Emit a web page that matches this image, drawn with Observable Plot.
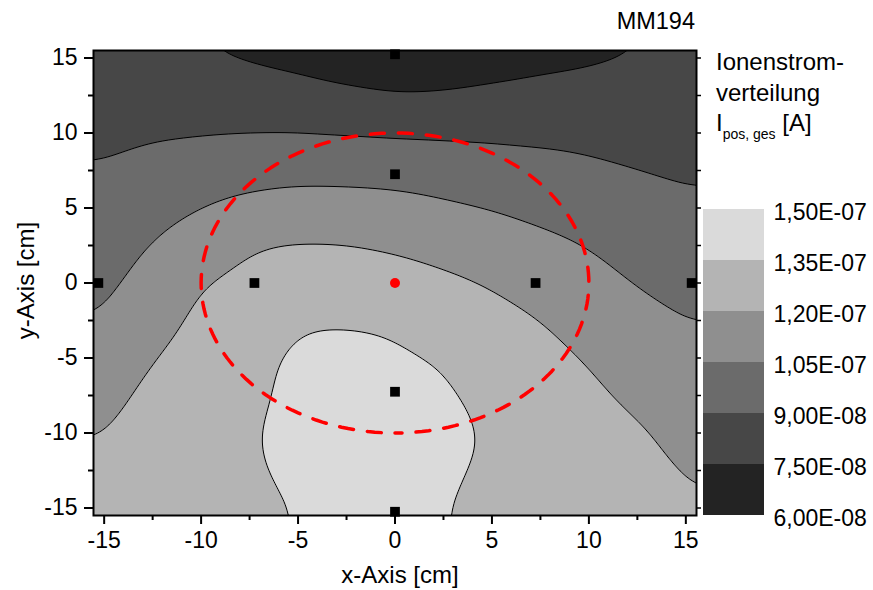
<!DOCTYPE html>
<html>
<head>
<meta charset="utf-8">
<script src="https://cdn.jsdelivr.net/npm/d3@7"></script>
<script src="https://cdn.jsdelivr.net/npm/@observablehq/plot@0.6"></script>
<style>
  body { margin: 0; background: #fff; font-family: "Liberation Sans", Arial, sans-serif; }
  #wrap { position: relative; width: 873px; height: 590px; overflow: hidden; }
  .abs { position: absolute; white-space: nowrap; color: #000; }
  #main, #legend { position: absolute; }
</style>
</head>
<body>
<div id="wrap">
  <div id="main" style="left:0;top:0"></div>
  <div id="legend" style="left:703px;top:199px"></div>
  <div class="abs" style="right:178px;top:10px;font-size:23.5px;line-height:23.5px">MM194</div>
  <div class="abs" style="left:716px;top:47px;font-size:24px;line-height:30.5px">Ionenstrom-<br>verteilung<br>I<span style="font-size:14px;vertical-align:-8px;line-height:0">pos, ges</span> [A]</div>
  <div class="abs" style="left:300px;top:563px;width:200px;text-align:center;font-size:24px;line-height:24px">x-Axis [cm]</div>
  <div class="abs" style="left:0;top:0;width:200px;text-align:center;font-size:24px;line-height:24px;transform-origin:0 0;transform:translate(13.7px,380.5px) rotate(-90deg)">y-Axis [cm]</div>
</div>
<script>
// Ion current distribution, values in units of 1e-8 A
const unit = 1e-8;
const xs = [-15.55, -12.5, -10, -7.5, -5, -2.5, 0, 2.5, 5, 7.5, 10, 12.5, 15.55];
const ys = [15.5, 12.5, 10, 7.5, 5, 2.5, 0, -2.5, -5, -7.5, -10, -12.5, -15.5];
const current = [
  [7.86, 7.80, 7.40, 7.15, 6.90, 6.54, 6.20, 6.29, 6.66, 6.97, 7.20, 7.42, 7.60],
  [8.31, 8.39, 8.29, 8.21, 8.05, 7.78, 7.55, 7.64, 7.84, 7.96, 7.98, 7.99, 7.98],
  [8.69, 8.87, 8.91, 8.97, 9.00, 8.93, 8.84, 8.81, 8.78, 8.72, 8.62, 8.50, 8.39],
  [9.06, 9.42, 9.69, 9.92, 10.07, 10.05, 10.00, 9.81, 9.63, 9.45, 9.25, 9.02, 8.80],
  [9.43, 9.99, 10.50, 10.93, 11.14, 11.11, 10.99, 10.73, 10.47, 10.16, 9.86, 9.49, 9.21],
  [9.75, 10.56, 11.35, 12.00, 12.12, 12.08, 11.86, 11.57, 11.21, 10.82, 10.47, 9.96, 9.62],
  [10.02, 11.04, 12.06, 12.30, 12.74, 12.74, 12.55, 12.26, 11.94, 11.43, 10.96, 10.43, 10.03],
  [10.40, 11.52, 12.31, 12.60, 13.42, 13.52, 13.38, 12.82, 12.38, 12.05, 11.44, 10.87, 10.44],
  [10.90, 12.00, 12.56, 13.10, 13.85, 13.75, 13.72, 13.48, 12.79, 12.42, 11.92, 11.31, 10.81],
  [11.40, 12.38, 12.81, 13.20, 13.85, 13.95, 13.85, 13.70, 13.25, 12.74, 12.27, 11.75, 11.18],
  [11.80, 12.70, 13.00, 13.40, 13.95, 14.10, 13.95, 13.75, 13.45, 12.95, 12.53, 12.17, 11.55],
  [12.30, 12.95, 13.15, 13.30, 13.85, 14.10, 13.95, 13.65, 13.35, 13.00, 12.65, 12.35, 11.91],
  [12.84, 13.15, 13.15, 13.15, 13.50, 14.00, 13.85, 13.52, 13.20, 12.96, 12.60, 12.40, 12.05]
];
const levels = [6, 7.5, 9, 10.5, 12, 13.5, 15];
const shades = ["#232323", "#474747", "#6b6b6b", "#8f8f8f", "#b4b4b4", "#dadada"];

// measurement probe positions (cm)
const probeX = [-15.3, -7.25, 7.25, 15.3, 0, 0, 0, 0];
const probeY = [0, 0, 0, 0, 15.25, 7.25, -7.25, -15.25];
const centerX = [0];
const centerY = [0];
const ringRadius = 10;

const xMajor = [-15, -10, -5, 0, 5, 10, 15];
const xMinor = [-12.5, -7.5, -2.5, 2.5, 7.5, 12.5];
const yMajor = [-15, -10, -5, 0, 5, 10, 15];
const yMinor = [-12.5, -7.5, -2.5, 2.5, 7.5, 12.5];

const grid = [];
current.forEach((row, i) => row.forEach((v, j) => grid.push({x: xs[j], y: ys[i], v})));
const ring = d3.range(-90, 271, 2).map(a => ({
  x: ringRadius * Math.cos(a * Math.PI / 180),
  y: ringRadius * Math.sin(a * Math.PI / 180)
}));
const probes = probeX.map((x, i) => ({x, y: probeY[i]}));
const centers = centerX.map((x, i) => ({x, y: centerY[i]}));

const colorScale = {type: "threshold", domain: levels.slice(1, -1), range: shades};
const font = "'Liberation Sans', Arial, sans-serif";

const chart = Plot.plot({
  width: 873, height: 590,
  marginLeft: 93, marginRight: 177, marginTop: 50, marginBottom: 75,
  style: {fontFamily: font, color: "black", background: "transparent"},
  x: {domain: [-15.55, 15.55], label: null},
  y: {domain: [-15.5, 15.5], label: null},
  color: colorScale,
  marks: [
    Plot.contour(grid, {x: "x", y: "y", fill: "v", thresholds: levels.slice(0, -1),
      interpolate: "barycentric", pixelSize: 1, blur: 18, stroke: "black", strokeWidth: 1}),
    Plot.line(ring, {x: "x", y: "y", stroke: "#ff0000", strokeWidth: 3.5,
      strokeDasharray: "14,14", strokeDashoffset: 7}),
    Plot.dot(probes, {x: "x", y: "y", symbol: "square", r: 5.5, fill: "black", stroke: null}),
    Plot.dot(centers, {x: "x", y: "y", r: 5, fill: "#ff0000", stroke: null}),
    Plot.frame({strokeWidth: 2}),
    Plot.axisX({ticks: xMajor, tickSize: 9, tickPadding: 7, tickFormat: d => String(d),
      fontSize: 23, strokeWidth: 2, label: null}),
    Plot.axisX({ticks: xMinor, tickSize: 5, tickFormat: () => "", strokeWidth: 2, label: null}),
    Plot.axisY({ticks: yMajor, tickSize: 9, tickPadding: 7, tickFormat: d => String(d),
      fontSize: 23, strokeWidth: 2, label: null}),
    Plot.axisY({ticks: yMinor, tickSize: 5, tickFormat: () => "", strokeWidth: 2, label: null}),
    Plot.axisY({anchor: "right", ticks: yMajor.concat(yMinor), tickSize: 4, tickFormat: () => "",
      strokeWidth: 1.5, label: null})
  ]
});
document.getElementById("main").appendChild(chart);

function sci(v) {
  const e = v >= 10 ? 7 : 8;
  const m = v >= 10 ? v / 10 : v;
  return m.toFixed(2).replace(".", ",") + "E-0" + e;
}
const bands = levels.slice(0, -1).map((lo, i) => ({lo, hi: levels[i + 1]}));
const legend = Plot.plot({
  width: 170, height: 330,
  marginLeft: 0, marginRight: 109, marginTop: 10, marginBottom: 14,
  style: {fontFamily: font, color: "black", background: "transparent", overflow: "visible"},
  x: {domain: [0, 1], axis: null},
  y: {domain: [levels[0], levels[levels.length - 1]], label: null},
  color: colorScale,
  marks: [
    Plot.rect(bands, {x1: d => 0, x2: d => 1, y1: "lo", y2: "hi", fill: "lo"}),
    Plot.axisY({anchor: "right", ticks: levels, tickSize: 0, tickPadding: 9, tickFormat: sci,
      fontSize: 23, dy: 3, label: null})
  ]
});
document.getElementById("legend").appendChild(legend);
</script>
</body>
</html>
